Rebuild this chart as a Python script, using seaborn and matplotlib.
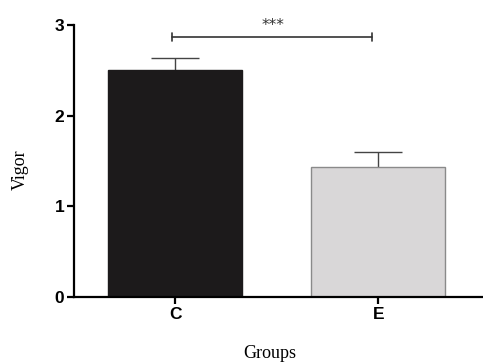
import matplotlib
matplotlib.use("Agg")
import matplotlib.pyplot as plt
import seaborn as sns
import pandas as pd
import numpy as np

groups = ["C", "E"]
means = [2.50, 1.43]
errors = [0.14, 0.17]
bar_colors = ["#1c1a1b", "#d9d7d8"]
edge_colors = ["#1c1a1b", "#8a8a8a"]
sig_y = 2.87
sig_text = "***"

sns.set_theme(style="ticks")
df = pd.DataFrame({"group": groups, "mean": means})

fig = plt.figure(figsize=(4.83, 3.64), dpi=100)
ax = fig.add_axes([0.153, 0.184, 0.845, 0.747])

sns.barplot(data=df, x="group", y="mean", hue="group", palette=bar_colors,
            width=0.66, ax=ax, legend=False, errorbar=None)
for p, ec in zip(ax.patches, edge_colors):
    p.set_edgecolor(ec)
    p.set_linewidth(1.0)
    p.set_zorder(2)

xs = np.arange(len(groups))
eb = ax.errorbar(xs, means, yerr=[np.zeros(len(errors)), errors], fmt="none",
                 ecolor="#444444", elinewidth=1.0, capsize=17, capthick=1.0, zorder=1)
caplines = eb[1]
if len(caplines) >= 2:
    caplines[0].set_visible(False)

ax.plot([xs[0] - 0.015, xs[1] - 0.03], [sig_y, sig_y], color="#333333", lw=1.2)
ax.plot([xs[0] - 0.015] * 2, [sig_y - 0.04, sig_y + 0.04], color="#333333", lw=1.2)
ax.plot([xs[1] - 0.03] * 2, [sig_y - 0.04, sig_y + 0.04], color="#333333", lw=1.2)
ax.text((xs[0] + xs[1]) / 2 - 0.02, sig_y + 0.04, sig_text, ha="center", va="bottom",
        fontsize=11, color="#333333")

ax.set_xlim(-0.5, 1.51)
ax.set_ylim(0, 3)
ax.set_yticks([0, 1, 2, 3])
for s in ["top", "right"]:
    ax.spines[s].set_visible(False)
for s in ["left", "bottom"]:
    ax.spines[s].set_linewidth(1.6)
    ax.spines[s].set_color("black")
ax.tick_params(axis="both", direction="out", length=5, width=1.6, color="black",
               labelsize=12.5, pad=2)
for lab in ax.get_xticklabels() + ax.get_yticklabels():
    lab.set_fontfamily("Liberation Sans")
    lab.set_fontweight("bold")
    lab.set_color("black")

ax.set_xlabel("Groups", family="Liberation Serif", fontsize=13, color="black")
ax.set_ylabel("Vigor", family="Liberation Serif", fontsize=13, color="black")
ax.xaxis.set_label_coords(0.48, -0.175)
ax.yaxis.set_label_coords(-0.11, 0.47)

fig.savefig("out.png", dpi=100)
